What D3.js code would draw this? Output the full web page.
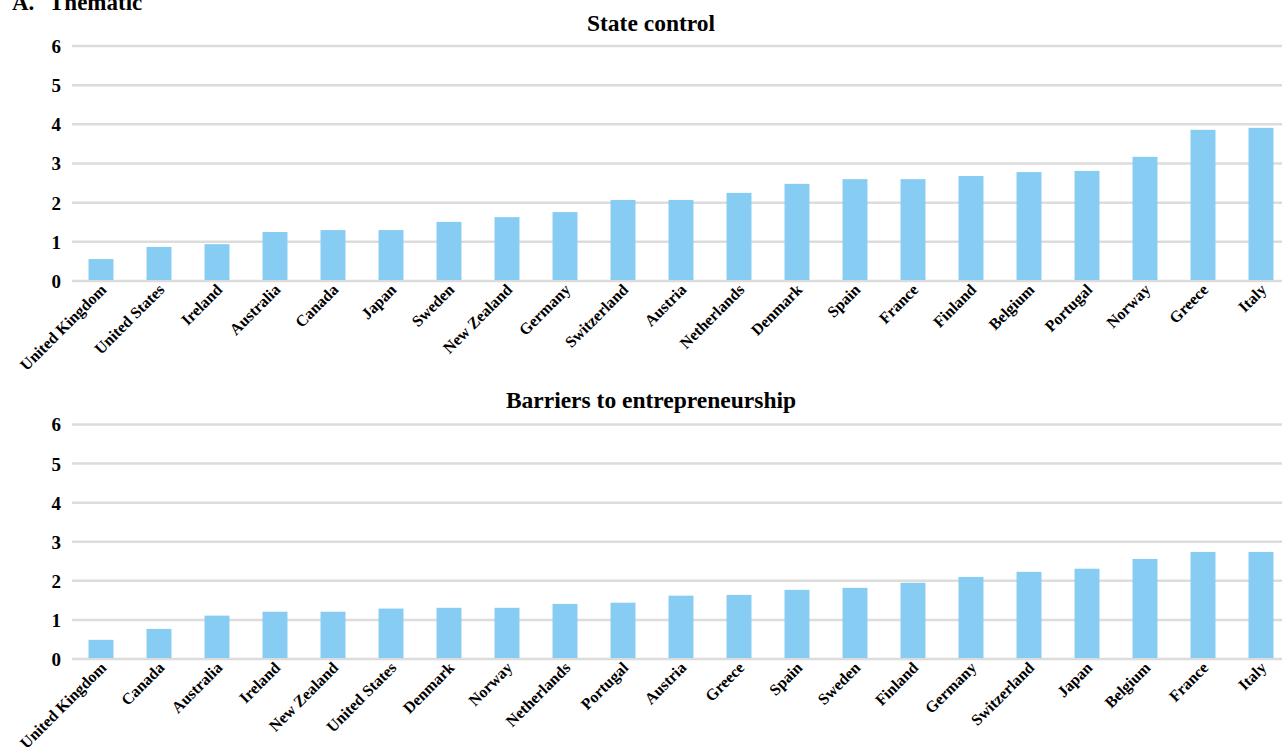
<!DOCTYPE html>
<html>
<head>
<meta charset="utf-8">
<script src="https://cdn.jsdelivr.net/npm/d3@7"></script>
<style>
	html, body { margin: 0; padding: 0; background: #fff; }
	.c-svg { width: 1282px; height: 752px; overflow: hidden; }
	text { font-family: "Liberation Serif", "Times New Roman", serif; font-weight: bold; fill: #000; }
</style>
</head>
<body>
<div class="c-svg"></div>
<script>
//DATA
//-------------------------------------------------------------------------

const stateCountries = ["United Kingdom", "United States", "Ireland", "Australia", "Canada", "Japan", "Sweden",
	"New Zealand", "Germany", "Switzerland", "Austria", "Netherlands", "Denmark", "Spain", "France",
	"Finland", "Belgium", "Portugal", "Norway", "Greece", "Italy"];
const stateValues = [0.56, 0.87, 0.94, 1.25, 1.30, 1.30, 1.51, 1.63, 1.76, 2.07, 2.07, 2.25, 2.48, 2.60, 2.60,
	2.68, 2.78, 2.81, 3.17, 3.86, 3.91];

const barrierCountries = ["United Kingdom", "Canada", "Australia", "Ireland", "New Zealand", "United States",
	"Denmark", "Norway", "Netherlands", "Portugal", "Austria", "Greece", "Spain", "Sweden", "Finland",
	"Germany", "Switzerland", "Japan", "Belgium", "France", "Italy"];
const barrierValues = [0.49, 0.77, 1.11, 1.21, 1.21, 1.29, 1.31, 1.31, 1.41, 1.44, 1.62, 1.64, 1.77, 1.82, 1.95,
	2.10, 2.23, 2.31, 2.56, 2.74, 2.74];

const yTicks = [0, 1, 2, 3, 4, 5, 6];


//INITIALISATION
//-------------------------------------------------------------------------

const opts = {
	width: 1282,
	height: 752,
	left: 72,
	right: 1290
};

const viz = {
	barColor: "#86ccf3",
	gridColor: "#dcdcdc"
};

const svg = d3.select(".c-svg")
	.append("svg")
	.attr("width", opts.width)
	.attr("height", opts.height);

//panel label, partly cut at the top like in the source
svg.append("text")
	.attr("x", 12)
	.attr("y", 10)
	.style("font-size", "23px")
	.text("A.");
svg.append("text")
	.attr("x", 49)
	.attr("y", 10)
	.style("font-size", "23px")
	.text("Thematic");


//PANEL
//-------------------------------------------------------------------------

function panel(title, countries, values, top, bottom, titleY){

	const data = countries.map((c, i) => ({country: c, value: values[i]}));

	const x = d3.scaleBand()
		.domain(countries)
		.range([opts.left, opts.right])
		.padding(0.57)
		.paddingOuter(0.285);

	const y = d3.scaleLinear()
		.domain([0, 6])
		.range([bottom, top]);

	const g = svg.append("g");

	//title
	g.append("text")
		.attr("x", 651)
		.attr("y", titleY)
		.attr("text-anchor", "middle")
		.style("font-size", "23.5px")
		.text(title);

	//grid lines
	g.append("g")
		.selectAll("line")
		.data(yTicks)
		.join("line")
		.attr("x1", opts.left)
		.attr("x2", opts.right)
		.attr("y1", d => y(d))
		.attr("y2", d => y(d))
		.attr("stroke", viz.gridColor)
		.attr("stroke-width", 2.5);

	//y axis
	const yAxis = d3.axisLeft(y)
		.tickValues(yTicks)
		.tickFormat(d3.format("d"))
		.tickSize(0)
		.tickPadding(0);

	g.append("g")
		.attr("class", "axis y_axis")
		.attr("transform", "translate(61 0)")
		.call(yAxis)
		.call(s => s.select(".domain").remove())
		.selectAll("text")
		.style("font-size", "19px")
		.attr("dy", "0.34em");

	//bars
	g.append("g")
		.selectAll("rect")
		.data(data)
		.join("rect")
		.attr("x", d => x(d.country))
		.attr("width", x.bandwidth())
		.attr("y", d => y(d.value))
		.attr("height", d => y(0) - y(d.value) - 1)
		.attr("fill", viz.barColor);

	//x axis
	const xAxis = d3.axisBottom(x)
		.tickSize(0)
		.tickPadding(0);

	g.append("g")
		.attr("class", "axis x_axis")
		.attr("transform", `translate(0 ${bottom + 9})`)
		.call(xAxis)
		.call(s => s.select(".domain").remove())
		.selectAll("text")
		.style("font-size", "16px")
		.attr("text-anchor", "end")
		.attr("dy", "0")
		.attr("y", 0)
		.attr("transform", "rotate(-45) translate(4 5)");
}

panel("State control", stateCountries, stateValues, 46, 281, 31);
panel("Barriers to entrepreneurship", barrierCountries, barrierValues, 424.5, 659, 408);
</script>
</body>
</html>
